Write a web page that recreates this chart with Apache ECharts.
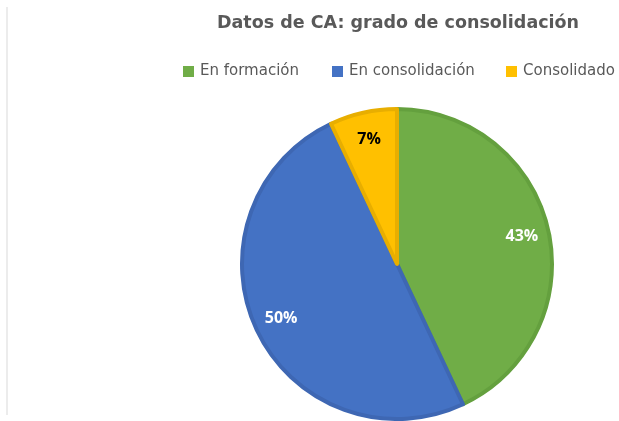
<!DOCTYPE html>
<html>
<head>
<meta charset="utf-8">
<script src="https://cdn.jsdelivr.net/npm/echarts@6/dist/echarts.min.js"></script>
<style>
  html, body { margin: 0; padding: 0; background: #fff; }
  #chart { width: 619px; height: 421px; }
</style>
</head>
<body>
<div id="chart"></div>
<script>
// datos del gráfico
const categorias = ["En formación", "En consolidación", "Consolidado"]
const valores = [43, 50, 7]
const colores = ["#70AD47", "#4472C4", "#FFC000"]
const bordes = ["#64a03e", "#3e67b3", "#e8ae00"]
const colorEtiqueta = ["#ffffff", "#ffffff", "#000000"]
// posición x de cada entrada de la leyenda
const leyendaX = [183, 332, 506]

const myChart = echarts.init(document.getElementById("chart"))

const datos = categorias.map((c, i) => ({
  name: c,
  value: valores[i],
  itemStyle: { color: colores[i], borderColor: bordes[i], borderWidth: 4 },
}))

// serie transparente solo para colocar las etiquetas más cerca del borde
const etiquetas = categorias.map((c, i) => ({
  name: c,
  value: valores[i],
  itemStyle: { color: "transparent" },
  label: { color: colorEtiqueta[i] },
}))

// una leyenda por categoría para fijar su posición como en el original
const leyendas = categorias.map((c, i) => ({
  data: [c],
  top: 64,
  left: leyendaX[i],
  padding: 0,
  icon: "rect",
  itemWidth: 11,
  itemHeight: 11,
  itemStyle: { borderWidth: 0 },
  textStyle: {
    fontFamily: "DejaVu Sans",
    fontSize: 15,
    color: "#595959",
    padding: [0, 0, 0, 1],
  },
}))

const option = {
  animation: false,
  title: {
    text: "Datos de CA: grado de consolidación",
    left: 393,
    textAlign: "center",
    top: 9,
    textStyle: {
      fontFamily: "DejaVu Sans",
      fontSize: 17.5,
      fontWeight: "bold",
      color: "#595959",
    },
  },
  legend: leyendas,
  graphic: [
    {
      type: "line",
      shape: { x1: 7, y1: 7, x2: 7, y2: 415 },
      style: { stroke: "#d9d9d9", lineWidth: 1 },
    },
  ],
  series: [
    {
      name: "Grado",
      type: "pie",
      center: [397, 264],
      radius: 155,
      startAngle: 90,
      clockwise: true,
      label: { show: false },
      labelLine: { show: false },
      emphasis: { disabled: true },
      data: datos,
    },
    {
      name: "Etiquetas",
      type: "pie",
      center: [397, 264],
      radius: [94, 156],
      startAngle: 90,
      clockwise: true,
      silent: true,
      label: {
        show: true,
        position: "inside",
        formatter: "{d}%",
        fontFamily: "Open Sans",
        fontSize: 16,
        fontWeight: "bold",
      },
      labelLine: { show: false },
      data: etiquetas,
    },
  ],
}

myChart.setOption(option)
</script>
</body>
</html>
